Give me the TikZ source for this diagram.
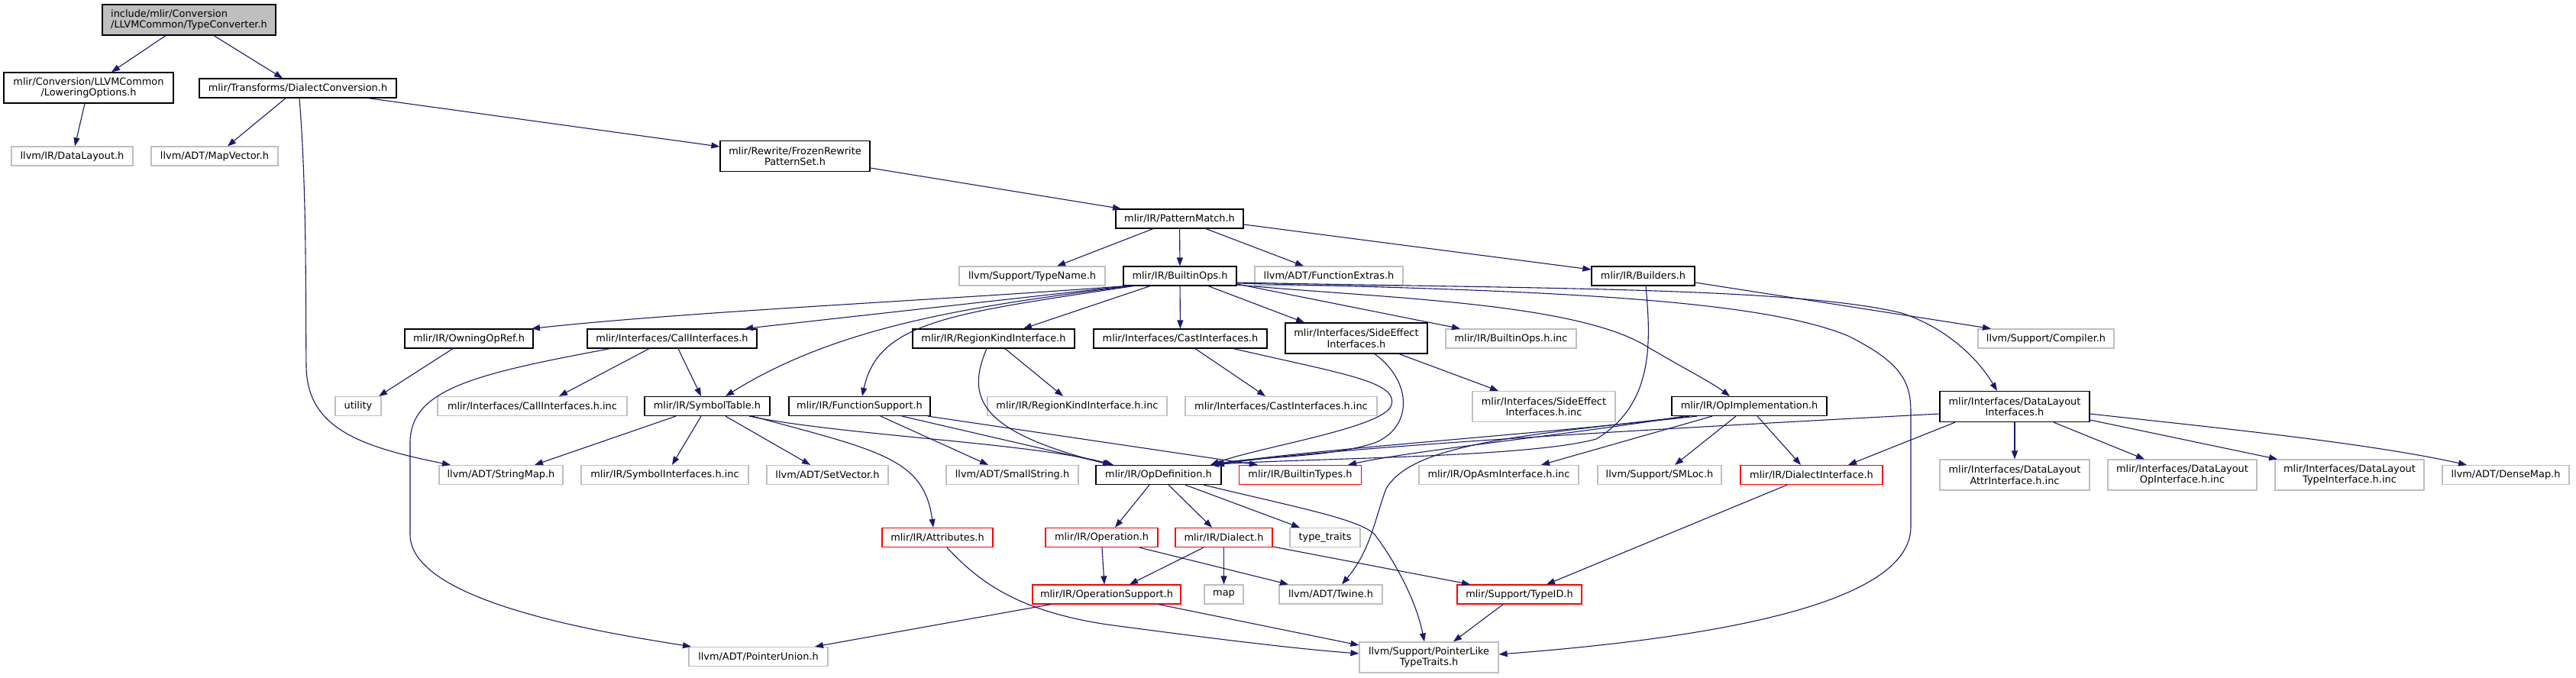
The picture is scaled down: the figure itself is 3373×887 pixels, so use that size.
\documentclass[tikz,border=0pt]{standalone}
\usepackage{fontspec}
\setmainfont{DejaVu Sans}
\usetikzlibrary{arrows.meta}
\definecolor{edgecol}{HTML}{191970}
\definecolor{extcol}{HTML}{BFBFBF}
\definecolor{rootfill}{HTML}{BFBFBF}
\definecolor{redcol}{HTML}{FF0000}
\tikzset{
  nd/.style={draw, line width=1.2pt, inner sep=0pt, minimum height=25pt, align=center,
    font=\fontsize{12.9}{14.5}\selectfont, text=black},
  blk/.style={nd, draw=black},
  ext/.style={nd, draw=extcol},
  rd/.style={nd, draw=redcol},
  root/.style={nd, draw=black, fill=rootfill},
  dep/.style={draw=edgecol, line width=1.1pt, -{Triangle[length=11pt,width=8pt]}, fill=none}
}
\begin{document}
\begin{tikzpicture}[x=1pt,y=-1pt]
\useasboundingbox (0,0) rectangle (3373,887);
% nodes
\node[root, minimum width=227pt, minimum height=40pt, align=left] (TC) at (247.5,26) {include/mlir/Conversion\\/LLVMCommon/TypeConverter.h};
\node[blk, minimum width=222pt, minimum height=40pt] (LO) at (116,115) {mlir/Conversion/LLVMCommon\\/LoweringOptions.h};
\node[blk, minimum width=258pt] (DC) at (390,115.5) {mlir/Transforms/DialectConversion.h};
\node[ext, minimum width=159pt] (DL) at (94.5,204.5) {llvm/IR/DataLayout.h};
\node[ext, minimum width=166pt] (MV) at (281,204.5) {llvm/ADT/MapVector.h};
\node[blk, minimum width=196pt, minimum height=40pt] (FR) at (1041,204.5) {mlir/Rewrite/FrozenRewrite\\PatternSet.h};
\node[blk, minimum width=167pt] (PM) at (1544.5,286.5) {mlir/IR/PatternMatch.h};
\node[ext, minimum width=191pt] (TN) at (1351.5,361.5) {llvm/Support/TypeName.h};
\node[blk, minimum width=148pt] (BO) at (1545,361.5) {mlir/IR/BuiltinOps.h};
\node[ext, minimum width=194pt] (FE) at (1740,361.5) {llvm/ADT/FunctionExtras.h};
\node[blk, minimum width=135pt] (BU) at (2151.5,361.5) {mlir/IR/Builders.h};
\node[blk, minimum width=186pt, minimum height=40pt] (SE) at (1776,443) {mlir/Interfaces/SideEffect\\Interfaces.h};
\node[ext, minimum width=171pt] (BOinc) at (1978.5,443.5) {mlir/IR/BuiltinOps.h.inc};
\node[ext, minimum width=178pt] (CO) at (2679,443.5) {llvm/Support/Compiler.h};
\node[blk, minimum width=168pt] (OOR) at (614,443.5) {mlir/IR/OwningOpRef.h};
\node[blk, minimum width=222pt] (CI) at (880,443.5) {mlir/Interfaces/CallInterfaces.h};
\node[blk, minimum width=212pt] (RK) at (1301,443.5) {mlir/IR/RegionKindInterface.h};
\node[blk, minimum width=227pt] (CA) at (1545.5,443.5) {mlir/Interfaces/CastInterfaces.h};
\node[ext, minimum width=60pt] (UT) at (469,532) {utility};
\node[ext, minimum width=248pt] (CIinc) at (697,532) {mlir/Interfaces/CallInterfaces.h.inc};
\node[blk, minimum width=164pt] (ST) at (926,532) {mlir/IR/SymbolTable.h};
\node[blk, minimum width=185pt] (FS) at (1125.5,532) {mlir/IR/FunctionSupport.h};
\node[ext, minimum width=235pt] (RKinc) at (1410.5,532) {mlir/IR/RegionKindInterface.h.inc};
\node[ext, minimum width=251pt] (CAinc) at (1677.5,532) {mlir/Interfaces/CastInterfaces.h.inc};
\node[ext, minimum width=187pt, minimum height=40pt] (SEinc) at (2021.5,532.5) {mlir/Interfaces/SideEffect\\Interfaces.h.inc};
\node[blk, minimum width=203pt] (OI) at (2290.5,532) {mlir/IR/OpImplementation.h};
\node[blk, minimum width=196pt, minimum height=40pt] (DLI) at (2638,532.5) {mlir/Interfaces/DataLayout\\Interfaces.h};
\node[ext, minimum width=162pt] (SM) at (656,622) {llvm/ADT/StringMap.h};
\node[ext, minimum width=219pt] (SIinc) at (870.5,622) {mlir/IR/SymbolInterfaces.h.inc};
\node[ext, minimum width=159pt] (SV) at (1083.5,622) {llvm/ADT/SetVector.h};
\node[ext, minimum width=173pt] (SS) at (1325.5,622) {llvm/ADT/SmallString.h};
\node[blk, minimum width=164pt] (OD) at (1517,622) {mlir/IR/OpDefinition.h};
\node[rd, minimum width=160pt] (BT) at (1702.5,622) {mlir/IR/BuiltinTypes.h};
\node[ext, minimum width=209pt] (OAinc) at (1962.5,622) {mlir/IR/OpAsmInterface.h.inc};
\node[ext, minimum width=162pt] (SMLoc) at (2173,622) {llvm/Support/SMLoc.h};
\node[rd, minimum width=186pt] (DI) at (2372,622) {mlir/IR/DialectInterface.h};
\node[ext, minimum width=196pt, minimum height=40pt] (ATinc) at (2638,622) {mlir/Interfaces/DataLayout\\AttrInterface.h.inc};
\node[ext, minimum width=195pt, minimum height=40pt] (OPinc) at (2857.5,622) {mlir/Interfaces/DataLayout\\OpInterface.h.inc};
\node[ext, minimum width=195pt, minimum height=40pt] (TYinc) at (3076.5,622) {mlir/Interfaces/DataLayout\\TypeInterface.h.inc};
\node[ext, minimum width=166pt] (DM) at (3281,622) {llvm/ADT/DenseMap.h};
\node[rd, minimum width=145pt] (AT) at (1227.5,704) {mlir/IR/Attributes.h};
\node[rd, minimum width=147pt] (OP) at (1442.5,704) {mlir/IR/Operation.h};
\node[rd, minimum width=127pt] (DA) at (1602.5,704) {mlir/IR/Dialect.h};
\node[ext, minimum width=92pt] (TT) at (1735,704) {type\_traits};
\node[rd, minimum width=194pt] (OS) at (1449,778.5) {mlir/IR/OperationSupport.h};
\node[ext, minimum width=51pt] (MP) at (1602.5,778.5) {map};
\node[ext, minimum width=135pt] (TW) at (1742.5,778.5) {llvm/ADT/Twine.h};
\node[rd, minimum width=163pt] (TID) at (1989.5,778.5) {mlir/Support/TypeID.h};
\node[ext, minimum width=182pt] (PU) at (993,860) {llvm/ADT/PointerUnion.h};
\node[ext, minimum width=182pt, minimum height=40pt] (PLT) at (1871,861) {llvm/Support/PointerLike\\TypeTraits.h};
% edges
\draw[dep] (TC.south -| 217,0) -- (LO.north -| 146,0);
\draw[dep] (TC.south -| 280,0) -- (DC.north -| 370,0);
\draw[dep] (LO.south -| 111,0) -- (DL.north -| 98,0);
\draw[dep] (DC.south -| 374,0) -- (MV.north -| 298,0);
\draw[dep] (DC.south -| 392,0) .. controls (402,250) and (400,400) .. (401,480) .. controls (402,560) and (470,585) .. (SM.north -| 590,0);
\draw[dep] (DC.south -| 482,0) -- (FR.west |- 0,192);
\draw[dep] (FR.east |- 0,220) -- (PM.north -| 1468,0);
\draw[dep] (PM.south -| 1510,0) -- (TN.north -| 1384,0);
\draw[dep] (PM) -- (BO);
\draw[dep] (PM.south -| 1579,0) -- (FE.north -| 1707,0);
\draw[dep] (PM.east |- 0,294) -- (BU.west |- 0,353);
\draw[dep] (BU.east |- 0,370) -- (CO.north -| 2607,0);
\draw[dep] (BU.south -| 2155,0) .. controls (2162,450) and (2165,530) .. (2090,575) .. controls (2000,600) and (1700,600) .. (OD.north -| 1585,0);
\draw[dep] (BO.south -| 1473,0) .. controls (1250,392) and (900,408) .. (OOR.north -| 696,0);
\draw[dep] (BO.south -| 1476,0) -- (CI.north -| 975,0);
\draw[dep] (BO.south -| 1480,0) .. controls (1280,400) and (1100,425) .. (ST.north -| 950,0);
\draw[dep] (BO.south -| 1484,0) .. controls (1250,410) and (1150,420) .. (FS.north -| 1129,0);
\draw[dep] (BO.south -| 1506,0) -- (RK.north -| 1340,0);
\draw[dep] (BO) -- (CA);
\draw[dep] (BO.south -| 1582,0) -- (SE.north -| 1708,0);
\draw[dep] (BO.east |- 0,372) -- (BOinc.north -| 1912,0);
\draw[dep] (BO.east |- 0,373) .. controls (1800,390) and (2050,395) .. (2150,450) .. controls (2200,480) and (2240,500) .. (OI.north -| 2265,0);
\draw[dep] (BO.east |- 0,371) .. controls (2000,380) and (2300,390) .. (2420,440) .. controls (2490,475) and (2502,500) .. (2502,540) -- (2502,690) .. controls (2502,790) and (2250,835) .. (PLT.east |- 0,857);
\draw[dep] (BO.east |- 0,370) .. controls (2000,378) and (2350,376) .. (2490,410) .. controls (2550,430) and (2590,470) .. (DLI.north -| 2615,0);
\draw[dep] (OOR.south -| 593,0) -- (UT.north -| 496,0);
\draw[dep] (CI.south -| 850,0) -- (CIinc.north -| 732,0);
\draw[dep] (CI.south -| 888,0) -- (ST.north -| 918,0);
\draw[dep] (CI.south -| 799,0) .. controls (620,490) and (537,510) .. (537,580) -- (537,700) .. controls (537,790) and (800,830) .. (PU.north -| 905,0);
\draw[dep] (ST.south -| 885,0) -- (SM.north -| 700,0);
\draw[dep] (ST.south -| 918,0) -- (SIinc.north -| 880,0);
\draw[dep] (ST.south -| 950,0) -- (SV.north -| 1061,0);
\draw[dep] (ST.south -| 985,0) .. controls (1150,590) and (1210,600) .. (AT.north -| 1222,0);
\draw[dep] (ST.south -| 981,0) .. controls (1100,570) and (1350,580) .. (OD.north -| 1458,0);
\draw[dep] (FS.south -| 1153,0) -- (SS.north -| 1294,0);
\draw[dep] (FS.south -| 1181,0) -- (OD.north -| 1457,0);
\draw[dep] (FS.south -| 1215,0) -- (BT.north -| 1647,0);
\draw[dep] (RK.south -| 1316,0) -- (RKinc.north -| 1392,0);
\draw[dep] (RK.south -| 1292,0) .. controls (1265,520) and (1280,565) .. (OD.north -| 1455,0);
\draw[dep] (CA.south -| 1565,0) -- (CAinc.north -| 1657,0);
\draw[dep] (CA.south -| 1615,0) .. controls (1760,490) and (1830,500) .. (1822,530) .. controls (1815,560) and (1650,585) .. (OD.north -| 1585,0);
\draw[dep] (SE.south -| 1832,0) -- (SEinc.north -| 1962,0);
\draw[dep] (SE.south -| 1800,0) .. controls (1850,500) and (1850,560) .. (1800,580) .. controls (1740,600) and (1640,598) .. (OD.north -| 1588,0);
\draw[dep] (OI.south -| 2222,0) .. controls (2000,570) and (1700,590) .. (OD.north -| 1590,0);
\draw[dep] (OI.south -| 2205,0) .. controls (2050,570) and (1850,590) .. (BT.north -| 1765,0);
\draw[dep] (OI.south -| 2242,0) -- (OAinc.north -| 2018,0);
\draw[dep] (OI.south -| 2273,0) -- (SMLoc.north -| 2193,0);
\draw[dep] (OI.south -| 2301,0) -- (DI.north -| 2358,0);
\draw[dep] (OI.south -| 2212,0) .. controls (2000,570) and (1850,580) .. (1815,640) .. controls (1800,680) and (1795,720) .. (TW.north -| 1757,0);
\draw[dep] (DLI.west |- 0,542) .. controls (2200,560) and (1750,585) .. (OD.north -| 1592,0);
\draw[dep] (DLI.south -| 2560,0) -- (DI.north -| 2420,0);
\draw[dep] (DLI) -- (ATinc);
\draw[dep] (DLI.south -| 2689,0) -- (OPinc.north -| 2808,0);
\draw[dep] (DLI.east |- 0,550) -- (TYinc.north -| 2982,0);
\draw[dep] (DLI.east |- 0,542) .. controls (2900,560) and (3100,580) .. (DM.north -| 3230,0);
\draw[dep] (OD.south -| 1505,0) -- (OP.north -| 1460,0);
\draw[dep] (OD.south -| 1530,0) -- (DA.north -| 1587,0);
\draw[dep] (OD.south -| 1552,0) -- (TT.north -| 1702,0);
\draw[dep] (OD.south -| 1576,0) .. controls (1700,665) and (1780,680) .. (1800,700) .. controls (1830,740) and (1855,790) .. (PLT.north -| 1865,0);
\draw[dep] (OP.south -| 1443,0) -- (OS.north -| 1446,0);
\draw[dep] (OP.south -| 1492,0) -- (TW.north -| 1687,0);
\draw[dep] (DA.south -| 1576,0) -- (OS.north -| 1479,0);
\draw[dep] (DA) -- (MP);
\draw[dep] (DA.east |- 0,716) -- (TID.north -| 1925,0);
\draw[dep] (OS.south -| 1376,0) -- (PU.north -| 1067,0);
\draw[dep] (OS.south -| 1517,0) -- (PLT.west |- 0,845);
\draw[dep] (AT.south -| 1240,0) .. controls (1280,760) and (1330,800) .. (1450,818) .. controls (1600,838) and (1700,850) .. (PLT.west |- 0,856);
\draw[dep] (DI.south -| 2340,0) -- (TID.north -| 2025,0);
\draw[dep] (TID.south -| 1968,0) -- (PLT.north -| 1903,0);
\end{tikzpicture}
\end{document}
